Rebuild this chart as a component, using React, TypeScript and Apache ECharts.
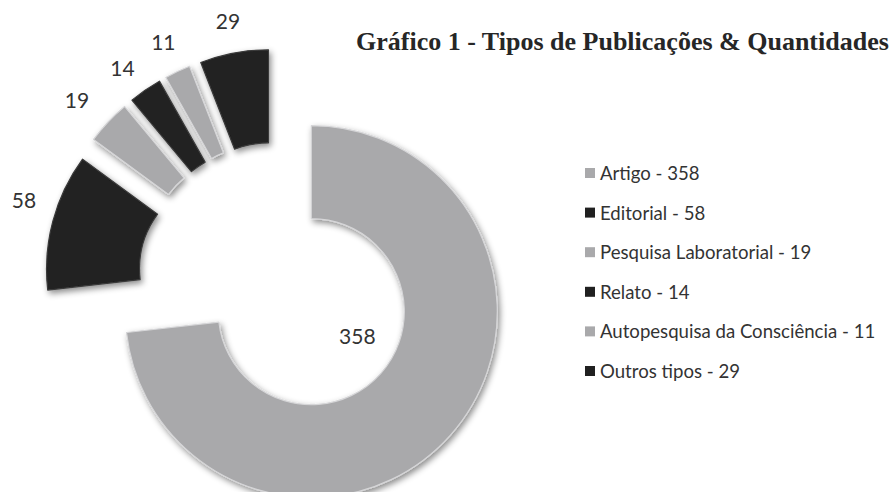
import React, { useEffect, useRef } from "react";
import * as echarts from "echarts";

const categories = [
  "Artigo",
  "Editorial",
  "Pesquisa Laboratorial",
  "Relato",
  "Autopesquisa da Consciência",
  "Outros tipos",
];
const values = [358, 58, 19, 14, 11, 29];
const titleText = "Gráfico 1 - Tipos de Publicações & Quantidades";

const LIGHT = "#a9a9ab";
const DARK = "#202020";
const colors = [LIGHT, DARK, LIGHT, DARK, LIGHT, DARK];
// small nudges of the value labels, as placed in the original figure
const labelNudges = [
  { dx: 46, dy: 24 },
  { dx: 3, dy: -13 },
  { dx: -7, dy: 0 },
  { dx: -4, dy: 5 },
  { dx: 0, dy: 0 },
  { dx: 0, dy: 0 },
];

export default function App() {
  const ref = useRef<HTMLDivElement>(null);
  useEffect(() => {
    if (!ref.current) return;
    const chart = echarts.init(ref.current, undefined, { renderer: "svg" });
    const data = categories.map((name, i) => ({
      name,
      value: values[i],
      selected: true,
      itemStyle: {
        color: colors[i],
        borderColor: i % 2 === 0 ? "#d6d6d8" : "#3a3a3a",
        borderWidth: 1.2,
      },
      label:
        i === 0
          ? { position: "center" as const }
          : { position: "outside" as const },
    }));
    chart.setOption({
      animation: false,
      backgroundColor: "#ffffff",
      title: {
        text: titleText,
        left: 351,
        top: 23,
        textStyle: {
          fontFamily: "Liberation Serif",
          fontWeight: "bold",
          fontSize: 26,
          color: "#262626",
        },
      },
      legend: {
        orient: "vertical",
        left: 580,
        top: 158,
        itemWidth: 10,
        itemHeight: 10,
        itemGap: 19.6,
        icon: "rect",
        selectedMode: false,
        formatter: (name: string) => {
          const idx = categories.indexOf(name);
          return `${name} - ${values[idx]}`;
        },
        textStyle: {
          fontFamily: "Lato",
          fontSize: 18.6,
          lineHeight: 20,
          color: "#333333",
        },
        itemStyle: { borderWidth: 0 },
      },
      series: [
        {
          type: "pie",
          center: [277, 281],
          radius: [93, 186],
          startAngle: 90,
          clockwise: true,
          selectedMode: "multiple",
          selectedOffset: 46,
          avoidLabelOverlap: false,
          emphasis: { disabled: true, scale: false },
          itemStyle: {
            shadowBlur: 6,
            shadowColor: "rgba(0,0,0,0.45)",
            shadowOffsetX: 2,
            shadowOffsetY: 3,
          },
          label: {
            show: true,
            formatter: "{c}",
            fontFamily: "Lato",
            fontSize: 21,
            color: "#333333",
            distanceToLabelLine: 0,
          },
          labelLine: { show: false, length: 33, length2: 0 },
          labelLayout: (params: any) => {
            const n = labelNudges[params.dataIndex];
            return params.dataIndex === 0
              ? { dx: n.dx, dy: n.dy }
              : { dx: n.dx, dy: n.dy, align: "center" };
          },
          data,
        },
      ],
    });
    return () => chart.dispose();
  }, []);
  return (
    <div
      ref={ref}
      style={{ position: "fixed", left: 0, top: 0, width: 893, height: 492 }}
    />
  );
}
